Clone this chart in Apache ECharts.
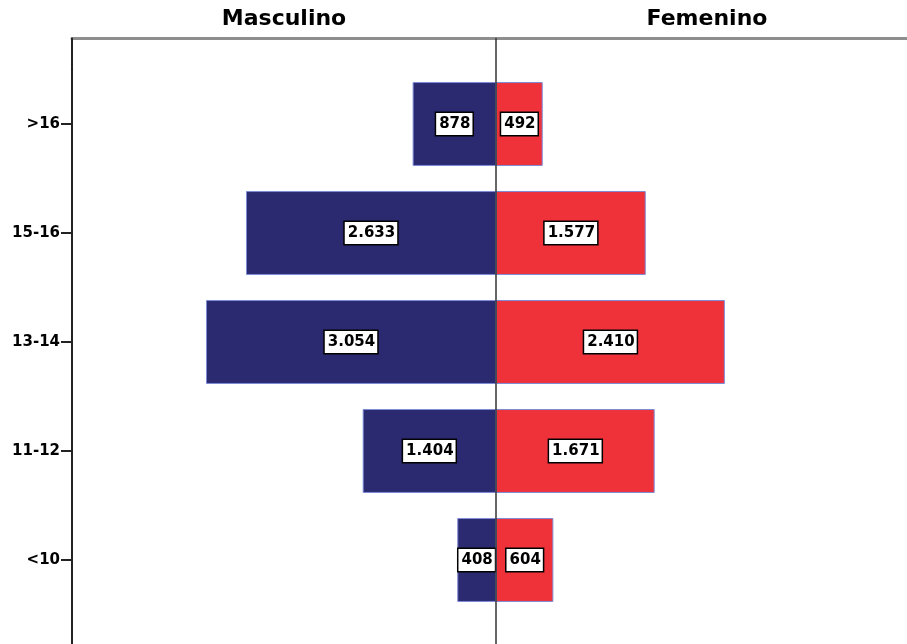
<!DOCTYPE html>
<html>
<head>
<meta charset="utf-8">
<script src="https://cdn.jsdelivr.net/npm/echarts@6/dist/echarts.min.js"></script>
<style>
  html, body { margin: 0; padding: 0; background: #fff; }
  #chart { width: 907px; height: 644px; }
</style>
</head>
<body>
<div id="chart"></div>
<script>
// Age groups, top to bottom
const ageGroups = ['>16', '15-16', '13-14', '11-12', '<10'];
// Counts per age group
const masculino = [878, 2633, 3054, 1404, 408];
const femenino = [492, 1577, 2410, 1671, 604];
const sideTitles = ['Masculino', 'Femenino'];

// Value-axis range (persons); the right half runs past the canvas edge
const X_MIN = -4465;
const X_MAX = 4328;

const FONT = '"DejaVu Sans", Verdana, sans-serif';
const NAVY = '#2b2a70';
const RED = '#ef323a';
const EDGE = '#7d8bd6';

// 3054 -> "3.054"
function fmt(v) {
  return String(Math.abs(v)).replace(/\B(?=(\d{3})+(?!\d))/g, '.');
}

const valueLabel = {
  show: true,
  position: 'inside',
  formatter: p => fmt(p.value),
  color: '#000',
  fontFamily: FONT,
  fontWeight: 'bold',
  fontSize: 15,
  lineHeight: 17,
  backgroundColor: '#fff',
  borderColor: '#000',
  borderWidth: 1.5,
  padding: [3, 2, 2, 3]
};

const chart = echarts.init(document.getElementById('chart'), null, { renderer: 'canvas' });

chart.setOption({
  animation: false,
  backgroundColor: '#fff',
  grid: [
    // bars
    { left: 72, right: 0, top: 69.5, bottom: 29.5 },
    // frame: top rule and left axis
    { left: 72, right: 0, top: 38.5, bottom: 0 },
    // frame: centre line at zero
    { left: 72, right: 0, top: 38.5, bottom: 0 }
  ],
  xAxis: [
    { gridIndex: 0, type: 'value', min: X_MIN, max: X_MAX, show: false },
    {
      gridIndex: 1, type: 'value', min: X_MIN, max: X_MAX, position: 'top',
      axisLine: { show: true, onZero: false, lineStyle: { color: '#8e8e8e', width: 3 } },
      axisTick: { show: false }, axisLabel: { show: false }, splitLine: { show: false }
    },
    {
      gridIndex: 2, type: 'value', min: X_MIN, max: X_MAX,
      axisLine: { show: false }, axisTick: { show: false }, axisLabel: { show: false }, splitLine: { show: false }
    }
  ],
  yAxis: [
    {
      gridIndex: 0, type: 'category', data: ageGroups, inverse: true,
      axisLine: { show: true, onZero: false, lineStyle: { color: '#222', width: 2 } },
      axisTick: { show: true, alignWithLabel: true, length: 11, lineStyle: { color: '#222', width: 2 } },
      axisLabel: { margin: 12, color: '#000', fontFamily: FONT, fontWeight: 'bold', fontSize: 15 },
      splitLine: { show: false }
    },
    {
      gridIndex: 1, type: 'value', min: 0, max: 1, z: 5,
      axisLine: { show: true, onZero: false, lineStyle: { color: '#222', width: 2 } },
      axisTick: { show: false }, axisLabel: { show: false }, splitLine: { show: false }
    },
    {
      gridIndex: 2, type: 'value', min: 0, max: 1, z: 5,
      axisLine: { show: true, onZero: true, lineStyle: { color: '#333', width: 1.5 } },
      axisTick: { show: false }, axisLabel: { show: false }, splitLine: { show: false }
    }
  ],
  graphic: [
    {
      type: 'text', x: 284, y: 19,
      style: { text: sideTitles[0], fill: '#000', font: 'bold 22px ' + FONT, textAlign: 'center', textVerticalAlign: 'middle' }
    },
    {
      type: 'text', x: 707, y: 19,
      style: { text: sideTitles[1], fill: '#000', font: 'bold 22px ' + FONT, textAlign: 'center', textVerticalAlign: 'middle' }
    }
  ],
  series: [
    {
      name: sideTitles[0], type: 'bar', xAxisIndex: 0, yAxisIndex: 0,
      data: masculino.map(v => -v),
      barWidth: '77%', barGap: '-100%',
      itemStyle: { color: NAVY, borderColor: EDGE, borderWidth: 1 },
      label: valueLabel
    },
    {
      name: sideTitles[1], type: 'bar', xAxisIndex: 0, yAxisIndex: 0,
      data: femenino,
      barWidth: '77%', barGap: '-100%',
      itemStyle: { color: RED, borderColor: EDGE, borderWidth: 1 },
      label: valueLabel
    }
  ]
});
</script>
</body>
</html>
